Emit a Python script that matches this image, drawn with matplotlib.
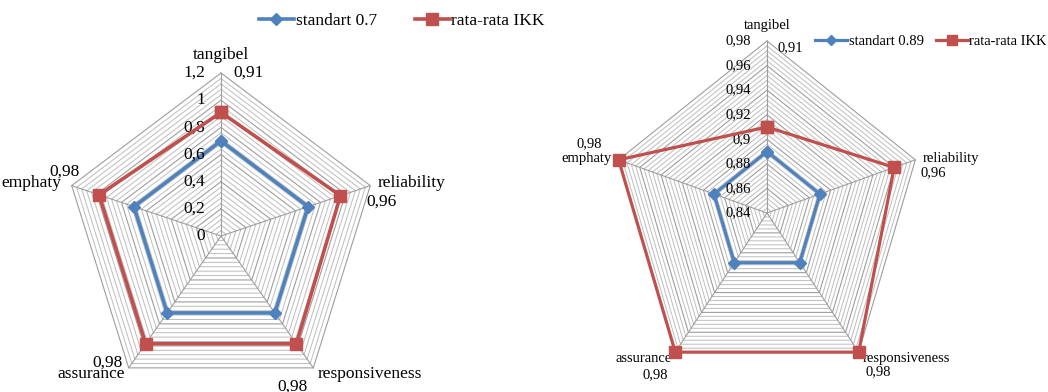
import numpy as np
import matplotlib
matplotlib.use("Agg")
import matplotlib.pyplot as plt
from matplotlib.lines import Line2D

plt.rcParams['font.family'] = ['Liberation Serif', 'DejaVu Serif']

categories = ["tangibel", "reliability", "responsiveness", "assurance", "emphaty"]
ikk = [0.91, 0.96, 0.98, 0.98, 0.98]
ikk_labels = ["0,91", "0,96", "0,98", "0,98", "0,98"]

std_left = [0.7, 0.7, 0.7, 0.7, 0.7]
std_right = [0.89, 0.89, 0.89, 0.89, 0.89]

left_ticks = [0, 0.2, 0.4, 0.6, 0.8, 1.0, 1.2]
left_tick_labels = ["0", "0,2", "0,4", "0,6", "0,8", "1", "1,2"]
right_ticks = [0.84, 0.86, 0.88, 0.9, 0.92, 0.94, 0.96, 0.98]
right_tick_labels = ["0,84", "0,86", "0,88", "0,9", "0,92", "0,94", "0,96", "0,98"]

blue = "#4F81BD"
red = "#C0504D"

theta = np.arange(len(categories)) * 2 * np.pi / len(categories)
theta_c = np.append(theta, theta[0])


def radar(rect, ticks, tick_labels, minor, std, fs, cat_off, val_off, lw):
    ax = fig.add_axes(rect, projection="polar")
    ax.set_aspect("auto")
    ax.set_theta_zero_location("N")
    ax.set_theta_direction(-1)
    lo, hi = ticks[0], ticks[-1]
    ax.set_ylim(lo, hi)
    ax.set_xticks([])
    ax.set_yticks([])
    ax.grid(False)
    ax.spines["polar"].set_visible(False)
    ax.patch.set_visible(False)

    # pentagon gridlines (minor + major)
    levels = np.arange(lo, hi + minor / 2, minor)
    for r in levels:
        major = np.isclose([abs(r - t) for t in ticks], 0, atol=minor / 10).any()
        ax.plot(theta_c, [r] * 6, color="#9e9e9e" if major else "#bdbdbd",
                lw=0.8 if major else 0.7, zorder=1, clip_on=False)
    for th in theta:
        ax.plot([th, th], [lo, hi], color="#9e9e9e", lw=0.8, zorder=1, clip_on=False)

    ax.plot(theta_c, std + std[:1], color=blue, lw=lw, marker="D", ms=6,
            zorder=3, clip_on=False)
    ax.plot(theta_c, ikk + ikk[:1], color=red, lw=lw, marker="s", ms=8,
            zorder=4, clip_on=False)

    for t, lab in zip(ticks, tick_labels):
        ax.annotate(lab, (0, t), xytext=(-16, 0), textcoords="offset pixels",
                    ha="right", va="center", fontsize=fs, annotation_clip=False)

    for i, cat in enumerate(categories):
        dx, dy, ha = cat_off[i]
        ax.annotate(cat, (theta[i], hi), xytext=(dx, dy), textcoords="offset pixels",
                    ha=ha, va="center", fontsize=fs, annotation_clip=False)
        dx, dy, ha = val_off[i]
        ax.annotate(ikk_labels[i], (theta[i], hi), xytext=(dx, dy),
                    textcoords="offset pixels", ha=ha, va="center", fontsize=fs,
                    annotation_clip=False)
    return ax


fig = plt.figure(figsize=(10.48, 3.92), dpi=100)

W, H = 1048, 392
# left chart: center (221, 236), rx 157, ry 163
radar([(221 - 157) / W, (H - 236 - 163) / H, 314 / W, 326 / H],
      left_ticks, left_tick_labels, 0.04, std_left, 12.5,
      [(0, 18, "center"), (7, 3, "left"), (4, -6, "left"), (-4, -6, "right"), (-10, 3, "right")],
      [(12, 0, "left"), (-4, -16, "left"), (-36, -19, "left"), (-6, 5, "right"), (8, 14, "right")],
      2.6)

# right chart: center (767, 213), rx 156, ry 172
radar([(767 - 156) / W, (H - 213 - 172) / H, 312 / W, 344 / H],
      right_ticks, right_tick_labels, 0.004, std_right, 10.5,
      [(0, 16, "center"), (7, 1, "left"), (4, -6, "left"), (-4, -6, "right"), (-7, 1, "right")],
      [(10, -7, "left"), (5, -13, "left"), (7, -20, "left"), (-7, -23, "right"), (-17, 16, "right")],
      2.3)

h_blue = Line2D([], [], color=blue, lw=2.6, marker="D", ms=6)
h_red = Line2D([], [], color=red, lw=2.6, marker="s", ms=8)

fig.legend([h_blue, h_red], ["standart 0.7", "rata-rata IKK"], loc="center",
           bbox_to_anchor=(402 / W, 1 - 21 / H), ncol=2, frameon=False,
           fontsize=12.5, handlelength=2.0, handletextpad=0.1, columnspacing=2.2)

h_blue2 = Line2D([], [], color=blue, lw=2.3, marker="D", ms=5)
h_red2 = Line2D([], [], color=red, lw=2.3, marker="s", ms=7)
fig.legend([h_blue2, h_red2], ["standart 0.89", "rata-rata IKK"], loc="center",
           bbox_to_anchor=(931 / W, 1 - 41 / H), ncol=2, frameon=False,
           fontsize=10.5, handlelength=2.2, handletextpad=0.1, columnspacing=0.8)

fig.savefig("out.png", dpi=100)
